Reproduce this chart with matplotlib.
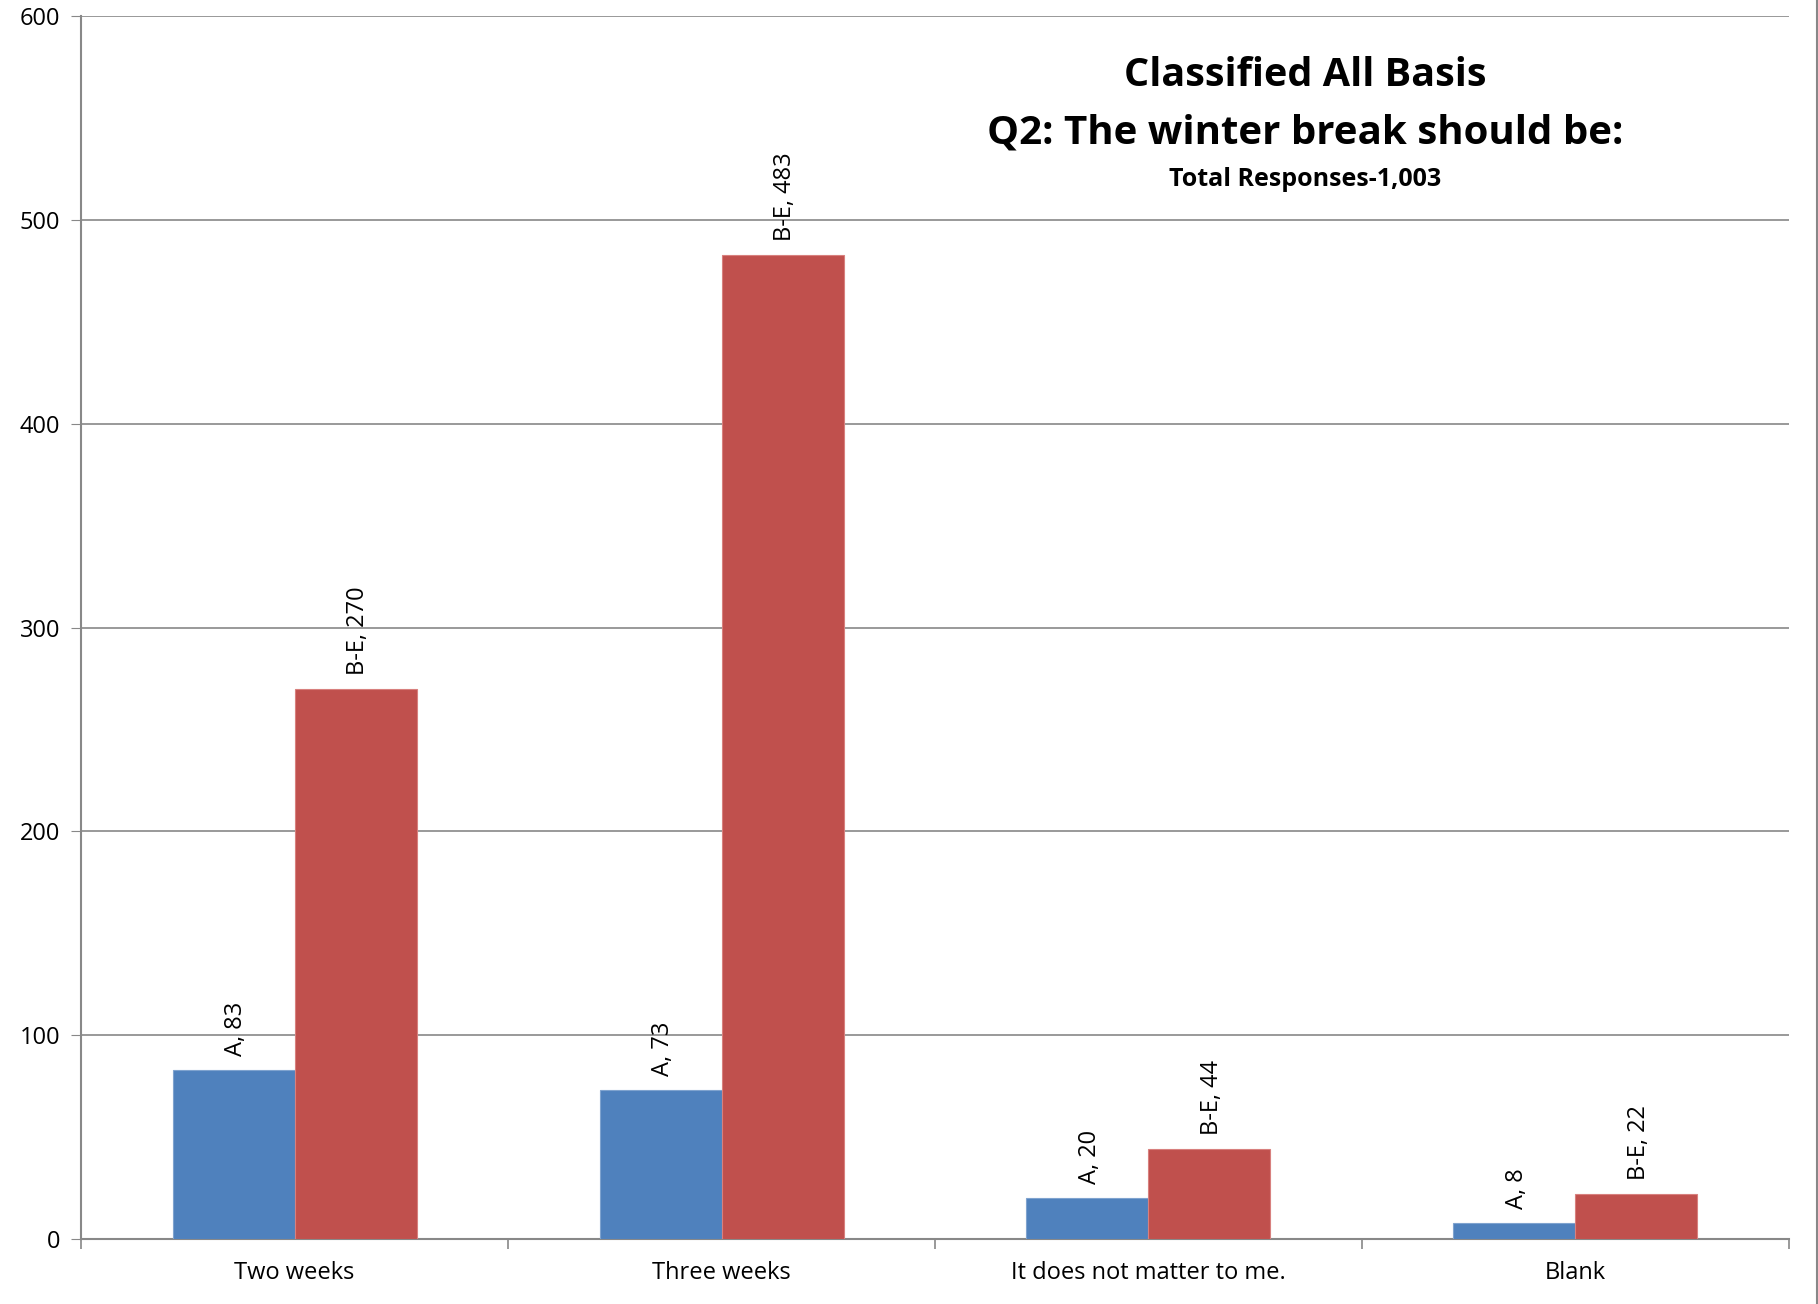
import numpy as np
import matplotlib.pyplot as plt
from matplotlib.lines import Line2D

# 数据
categories = ['Two weeks', 'Three weeks', 'It does not matter to me.', 'Blank']
series_names = ['A', 'B-E']
values_a = [83, 73, 20, 8]
values_be = [270, 483, 44, 22]
y_ticks = [0, 100, 200, 300, 400, 500, 600]

plt.rcParams['font.family'] = ['Open Sans', 'DejaVu Sans']

fig = plt.figure(figsize=(18.18, 13.04), dpi=100)
ax = fig.add_axes([0.0446, 0.0498, 0.9394, 0.9379])

x = np.arange(len(categories))
w = 0.2857
grid_col = '#888888'
bars_a = ax.bar(x - w / 2, values_a, w, color='#4F81BD', edgecolor='#7FA3CF', linewidth=0.8, zorder=3)
bars_be = ax.bar(x + w / 2, values_be, w, color='#C0504D', edgecolor='#D8807E', linewidth=0.8, zorder=3)

# 数据标签
for bars, name in [(bars_a, series_names[0]), (bars_be, series_names[1])]:
    for b in bars:
        h = b.get_height()
        ax.annotate(f'{name}, {int(h)}', (b.get_x() + b.get_width() / 2, h),
                    xytext=(2, 10), textcoords='offset points', rotation=90,
                    ha='center', va='bottom', fontsize=17)

ax.set_xlim(-0.5, len(categories) - 0.5)
ax.set_ylim(0, 600)
ax.set_yticks(y_ticks)
ax.tick_params(axis='y', labelsize=17, length=7, color=grid_col, pad=8)
ax.yaxis.grid(True, color=grid_col, linewidth=1.2, zorder=0)

ax.set_xticks(x)
ax.set_xticklabels(categories, fontsize=17)
ax.tick_params(axis='x', length=0, pad=16)
ax.set_xticks(np.arange(len(categories) + 1) - 0.5, minor=True)
ax.tick_params(axis='x', which='minor', length=7, color=grid_col, width=1.2)

for s in ['top', 'right']:
    ax.spines[s].set_visible(False)
for s in ['left', 'bottom']:
    ax.spines[s].set_color(grid_col)
    ax.spines[s].set_linewidth(1.5)

# 标题
ax.text(0.7168, 0.951, 'Classified All Basis', transform=ax.transAxes,
        ha='center', va='center', fontsize=28.5, fontweight='bold')
ax.text(0.7168, 0.904, 'Q2: The winter break should be:', transform=ax.transAxes,
        ha='center', va='center', fontsize=29, fontweight='bold')
ax.text(0.7168, 0.8662, 'Total Responses-1,003', transform=ax.transAxes,
        ha='center', va='center', fontsize=18, fontweight='bold')

fig.add_artist(Line2D([0.9992, 0.9992], [0, 1], transform=fig.transFigure,
                      color='#888888', linewidth=1.5))

fig.savefig('out.png', dpi=100)
